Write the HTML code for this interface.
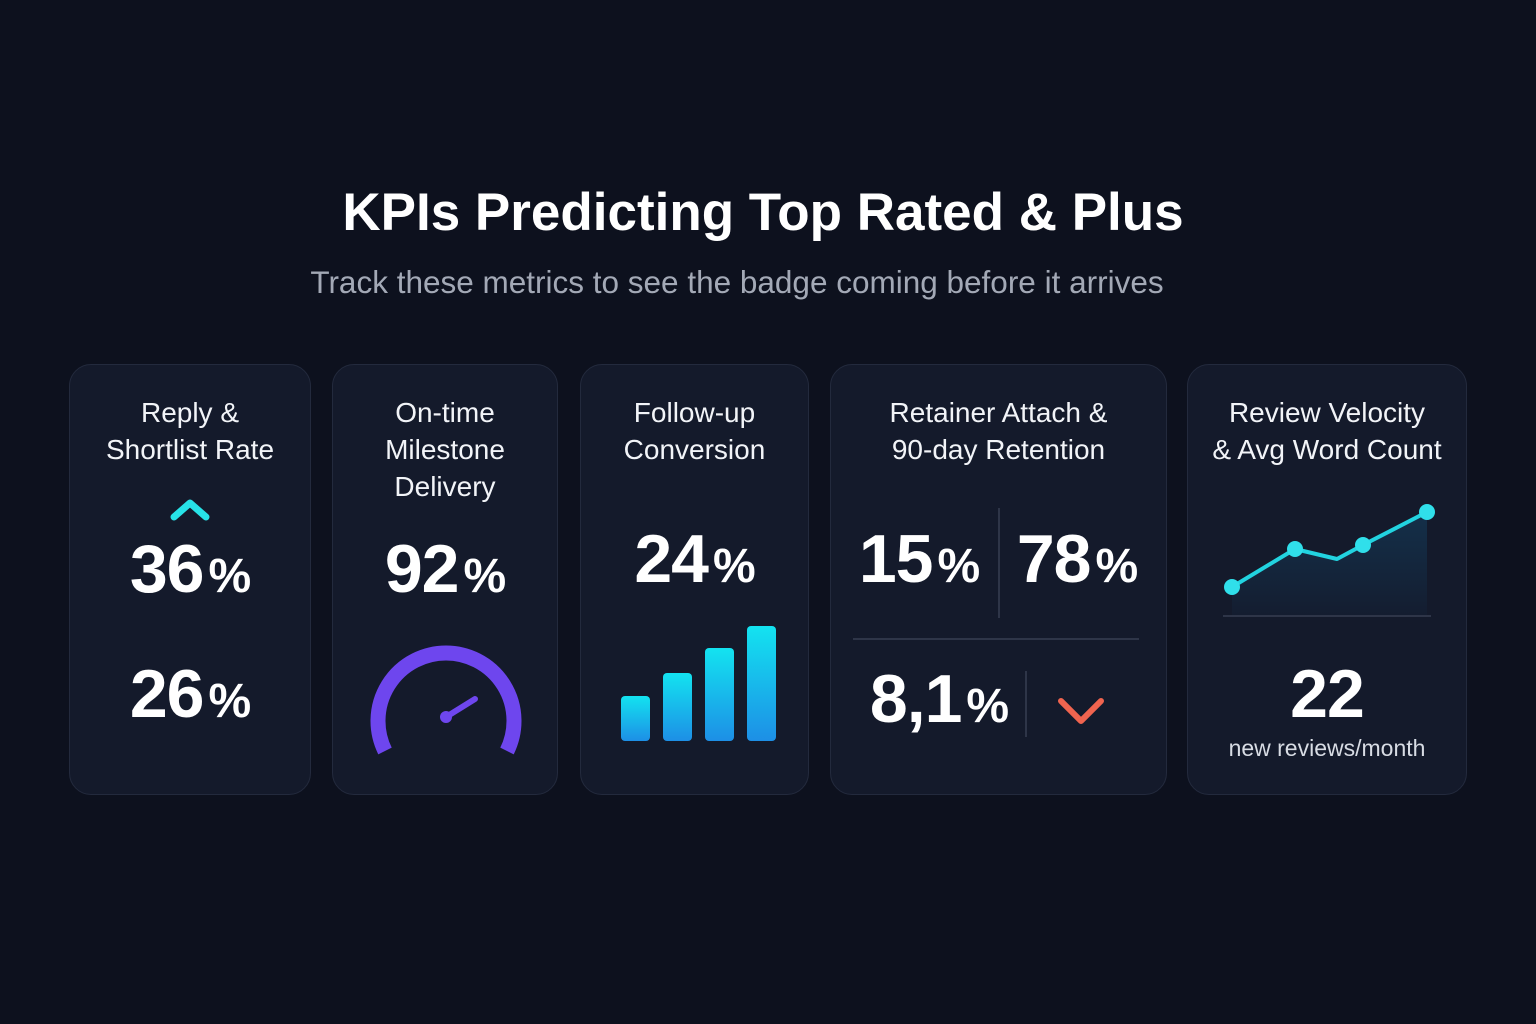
<!DOCTYPE html>
<html><head><meta charset="utf-8"><style>
body{margin:0;width:1536px;height:1024px;background:#0d111e;font-family:"Liberation Sans",sans-serif;color:#fff;position:relative;overflow:hidden}
.t{position:absolute;left:0;width:1536px;text-align:center}
.card{position:absolute;top:364px;height:431px;background:#141a2b;border:1px solid #232a3d;border-radius:22px;box-sizing:border-box}
.h{position:absolute;left:0;right:0;text-align:center;font-size:28px;line-height:37px;color:#f2f4f8}
.big{position:absolute;text-align:center;font-weight:bold;font-size:68px;letter-spacing:-1px}
.big span{font-size:48px;margin-left:5px;font-weight:bold}
svg{position:absolute;left:0;top:0}
</style></head><body>
<div class="t" style="top:182px;font-size:53px;font-weight:bold;left:-5px">KPIs Predicting Top Rated &amp; Plus</div>
<div class="t" style="top:264px;font-size:31.5px;color:#a3a9b6;left:-31px">Track these metrics to see the badge coming before it arrives</div>

<div class="card" style="left:69px;width:242px">
 <div class="h" style="top:29px">Reply &amp;<br>Shortlist Rate</div>
 <svg width="242" height="431"><polyline points="104,152 120,138 136,152" fill="none" stroke="#27e3e8" stroke-width="7" stroke-linecap="round" stroke-linejoin="round"/></svg>
 <div class="big" style="left:0;right:0;top:165px">36<span>%</span></div>
 <div class="big" style="left:0;right:0;top:290px">26<span>%</span></div>
</div>

<div class="card" style="left:332px;width:226px">
 <div class="h" style="top:29px">On-time<br>Milestone<br>Delivery</div>
 <div class="big" style="left:0;right:0;top:165px">92<span>%</span></div>
 <svg width="226" height="431">
  <path d="M 52 386 A 68 68 0 1 1 174 386" fill="none" stroke="#6e46ee" stroke-width="15"/>
  <line x1="113" y1="352" x2="142" y2="334" stroke="#6e46ee" stroke-width="6" stroke-linecap="round"/>
  <circle cx="113" cy="352" r="6" fill="#6e46ee"/>
 </svg>
</div>

<div class="card" style="left:580px;width:229px">
 <div class="h" style="top:29px">Follow-up<br>Conversion</div>
 <div class="big" style="left:0;right:0;top:155px">24<span>%</span></div>
 <svg id="bars" width="229" height="431"><defs><linearGradient id="bg" x1="0" y1="0" x2="0" y2="1"><stop offset="0" stop-color="#13e3f0"/><stop offset="1" stop-color="#1d8fe6"/></linearGradient></defs></svg>
</div>

<div class="card" style="left:830px;width:337px">
 <div class="h" style="top:29px">Retainer Attach &amp;<br>90-day Retention</div>
 <div class="big" style="left:18px;width:140px;top:155px">15<span>%</span></div>
 <div class="big" style="left:176px;width:140px;top:155px">78<span>%</span></div>
 <div class="big" style="left:38px;width:140px;top:295px">8,1<span>%</span></div>
 <svg width="337" height="431">
  <line x1="168" y1="143" x2="168" y2="253" stroke="#2e3548" stroke-width="2"/>
  <line x1="22" y1="274" x2="308" y2="274" stroke="#2e3548" stroke-width="2"/>
  <line x1="195" y1="306" x2="195" y2="372" stroke="#2e3548" stroke-width="2"/>
  <polyline points="230,336 250,356 270,336" fill="none" stroke="#f0644f" stroke-width="6" stroke-linecap="round" stroke-linejoin="round"/>
 </svg>
</div>

<div class="card" style="left:1187px;width:280px">
 <div class="h" style="top:29px">Review Velocity<br>&amp; Avg Word Count</div>
 <svg id="line" width="280" height="431"><defs><linearGradient id="ag" x1="0" y1="0" x2="0" y2="1"><stop offset="0" stop-color="#14304a"/><stop offset="1" stop-color="#141d30"/></linearGradient></defs>
  <line x1="35" y1="251" x2="243" y2="251" stroke="#2e3548" stroke-width="2"/></svg>
 <div class="big" style="left:0;right:0;top:290px">22</div>
 <div style="position:absolute;left:0;right:0;top:370px;text-align:center;font-size:23px;color:#d8dce4">new reviews/month</div>
</div>

<script>
const barCategories=["w1","w2","w3","w4"];
const barValues=[45,68,93,115];
const lineCategories=[0,1,2,3,4];
const lineValues=[10,48,38,52,85];
const lineDots=[true,true,false,true,true];
const NS="http://www.w3.org/2000/svg";
(function(){
 const svg=document.getElementById('bars');
 const x=i=>40+i*42, y=v=>376-v;
 barValues.forEach((v,i)=>{
  const r=document.createElementNS(NS,'rect');
  r.setAttribute('x',x(i));r.setAttribute('y',y(v));r.setAttribute('width',29);r.setAttribute('height',v);
  r.setAttribute('rx',4);r.setAttribute('fill','url(#bg)');
  
  
  svg.appendChild(r);
 });
})();
(function(){
 const svg=document.getElementById('line');
 const xs=[44,107,149,175,239];
 const x=i=>xs[i], y=v=>232-v;
 const pts=lineValues.map((v,i)=>x(i)+','+y(v)).join(' ');
 const a=document.createElementNS(NS,'polygon');
 a.setAttribute('points',pts+' '+x(4)+',250 '+x(0)+',250');a.setAttribute('fill','url(#ag)');
 
 
 svg.appendChild(a);
 const l=document.createElementNS(NS,'polyline');
 l.setAttribute('points',pts);l.setAttribute('fill','none');l.setAttribute('stroke','#22d3e0');l.setAttribute('stroke-width',4);l.setAttribute('stroke-linejoin','round');
 
 
 svg.appendChild(l);
 lineValues.forEach((v,i)=>{ if(!lineDots[i])return;
  const c=document.createElementNS(NS,'circle');
  c.setAttribute('cx',x(i));c.setAttribute('cy',y(v));c.setAttribute('r',8);c.setAttribute('fill','#30dfea');
  
  
  svg.appendChild(c);
 });
})();
</script>
</body></html>
